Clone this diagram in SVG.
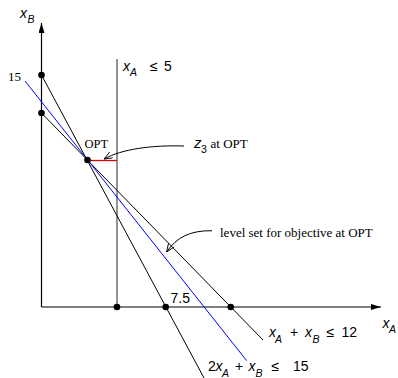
<svg xmlns="http://www.w3.org/2000/svg" width="398" height="378" viewBox="0 0 398 378">
<defs>
<style>
.ax{stroke:#000;stroke-width:1.2;fill:none}
.ln{stroke:#000;stroke-width:1;fill:none}
.blue{stroke:#0000ff;stroke-width:1;fill:none}
.red{stroke:#e00000;stroke-width:1.3;fill:none}
.gray{stroke:#666;stroke-width:1.4;fill:none}
.lead{stroke:#000;stroke-width:1;fill:none;marker-end:url(#stick)}
.dot{fill:#000}
.s{font-family:"Liberation Serif",serif;font-size:13px;fill:#000}
.m{font-family:"Liberation Sans",sans-serif;font-size:14px;fill:#000}
.i{font-style:italic}
.sub{font-style:italic;font-size:10.5px}
</style>
<marker id="ah" viewBox="0 0 10 6" refX="10" refY="3" markerWidth="10" markerHeight="6" markerUnits="userSpaceOnUse" orient="auto">
<path d="M0,0 L10,3 L0,6 Z" fill="#000"/>
</marker>
<marker id="stick" viewBox="0 0 10 8" refX="10" refY="4" markerWidth="9" markerHeight="7" markerUnits="userSpaceOnUse" orient="auto">
<path d="M0,0 L10,4 L0,8" fill="none" stroke="#000" stroke-width="1"/>
</marker>
</defs>
<rect width="398" height="378" fill="#fff"/>
<g id="connectors">
<line class="ax" x1="41.5" y1="307" x2="41.5" y2="23" marker-end="url(#ah)"/>
<line class="ax" x1="41.5" y1="307" x2="381" y2="307" marker-end="url(#ah)"/>
<line class="gray" x1="117" y1="59" x2="117" y2="307"/>
<line class="ln" x1="41.5" y1="75" x2="204" y2="378"/>
<line class="ln" x1="41.5" y1="113" x2="263" y2="340"/>
<line class="blue" x1="25" y1="81" x2="246.7" y2="360.7"/>
<line class="red" x1="87.5" y1="160.5" x2="117" y2="160.5"/>
<path class="lead" d="M184,146 C152,145 122,149 104,159"/>
<path class="lead" d="M212,230.7 C190,230.5 177,237 166.5,252"/>
</g>
<g id="points">
<circle class="dot" cx="41.5" cy="75" r="3.3"/>
<circle class="dot" cx="41.5" cy="113" r="3.3"/>
<circle class="dot" cx="87.5" cy="160" r="3.3"/>
<circle class="dot" cx="117" cy="307" r="3.3"/>
<circle class="dot" cx="165.7" cy="307" r="3.3"/>
<circle class="dot" cx="230.7" cy="307" r="3.3"/>
</g>
<g id="axis-labels">
<text class="m"><tspan class="i" x="20" y="17.5">x</tspan><tspan class="sub" x="27.5" y="22.5">B</tspan></text>
<text class="m"><tspan class="i" x="382.5" y="327.5">x</tspan><tspan class="sub" x="389" y="333">A</tspan></text>
<text class="s" x="8" y="81">15</text>
<text class="m" x="170.5" y="303">7.5</text>
</g>
<g id="constraint-xa5">
<text class="m"><tspan class="i" x="123" y="70.5">x</tspan><tspan class="sub" x="130" y="76">A</tspan><tspan x="150" y="70.5">≤</tspan><tspan x="164" y="70.5">5</tspan></text>
</g>
<g id="constraint-sum12">
<text class="m"><tspan class="i" x="269" y="337">x</tspan><tspan class="sub" x="275" y="342.5">A</tspan><tspan x="290" y="337">+</tspan><tspan class="i" x="305" y="337">x</tspan><tspan class="sub" x="312.5" y="342.5">B</tspan><tspan x="326.5" y="337">≤</tspan><tspan x="341.5" y="337">12</tspan></text>
</g>
<g id="constraint-sum15">
<text class="m"><tspan x="208" y="371">2</tspan><tspan class="i" x="215.5" y="371">x</tspan><tspan class="sub" x="222" y="376.5">A</tspan><tspan x="235" y="371">+</tspan><tspan class="i" x="248.5" y="371">x</tspan><tspan class="sub" x="255.5" y="376.5">B</tspan><tspan x="271.5" y="371">≤</tspan><tspan x="293" y="371">15</tspan></text>
</g>
<g id="opt">
<text class="s" x="84.5" y="148" style="font-size:12.5px">OPT</text>
</g>
<g id="z3-label">
<text class="m"><tspan class="i" x="194" y="148" style="font-size:15px">z</tspan><tspan x="201" y="153" style="font-size:10.5px">3</tspan></text>
<text class="s" x="210.5" y="148">at OPT</text>
</g>
<g id="level-set-label">
<text class="s" x="220" y="237">level set for objective at OPT</text>
</g>
</svg>
